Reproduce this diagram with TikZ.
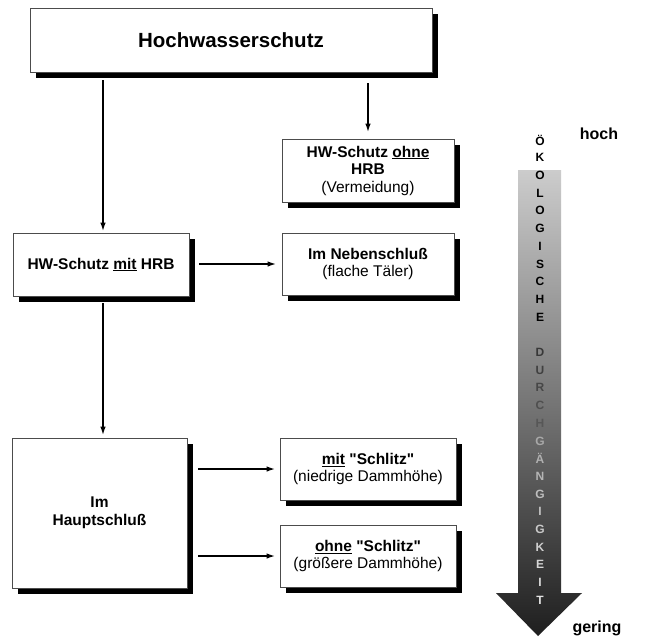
\documentclass[tikz,border=0pt]{standalone}
\usepackage{fontspec}
\setmainfont{Liberation Sans}[Ligatures=TeXOff]
\usetikzlibrary{shadows,arrows.meta}
\begin{document}
\begin{tikzpicture}[x=1pt,y=-1pt]
\tikzset{
 box/.style={draw=black!70, line width=0.8pt, fill=white, align=center, inner sep=2pt,
   font=\fontsize{15.5}{17.5}\selectfont,
   drop shadow={shadow xshift=6pt, shadow yshift=-6pt, fill=black, opacity=1}},
 arr/.style={line width=1.8pt, -{Latex[length=9pt,width=5.5pt]}},
 letter/.style={font=\bfseries\fontsize{12}{12}\selectfont, inner sep=0pt},
 scalelabel/.style={font=\bfseries\fontsize{16}{16}\selectfont, inner sep=0pt}
}
\useasboundingbox[fill=white] (0,0) rectangle (645,641);

% boxes
\node[box, minimum width=402pt, minimum height=64pt, font=\bfseries\fontsize{20.5}{23}\selectfont] (top) at (231,40) {Hochwasserschutz};
\node[box, minimum width=172pt, minimum height=63pt] (ohne) at (368,170.5)
  {\textbf{HW-Schutz \underline{ohne}}\\ \textbf{HRB}\\ (Vermeidung)};
\node[box, minimum width=172pt, minimum height=62pt] (neben) at (368,264)
  {\textbf{Im Nebenschluß}\\ (flache Täler)};
\node[box, minimum width=176pt, minimum height=63pt] (mit) at (101,264.5)
  {\textbf{HW-Schutz \underline{mit} HRB}};
\node[box, minimum width=175pt, minimum height=150pt] (haupt) at (99.5,513)
  {\textbf{Im}\\ \textbf{Hauptschluß}};
\node[box, minimum width=176pt, minimum height=62pt] (mits) at (368,469)
  {\textbf{\underline{mit} "Schlitz"}\\ (niedrige Dammhöhe)};
\node[box, minimum width=176pt, minimum height=62pt] (ohnes) at (368,556)
  {\textbf{\underline{ohne} "Schlitz"}\\ (größere Dammhöhe)};

% connectors
\draw[arr, shorten <=8pt, shorten >=1pt] ([xshift=2pt]top.south -| mit.north) -- ([xshift=2pt]mit.north);
\draw[arr, shorten <=11pt, shorten >=6pt] (top.south -| ohne.north) -- (ohne.north);
\draw[arr, shorten <=10pt, shorten >=5pt] (mit.east |- neben.west) -- (neben.west);
\draw[arr, shorten <=7pt, shorten >=2pt] ([xshift=2pt]mit.south) -- ([xshift=2pt]mit.south |- haupt.north);
\draw[arr, shorten <=11pt, shorten >=4pt] (haupt.east |- mits.west) -- (mits.west);
\draw[arr, shorten <=11pt, shorten >=4pt] (haupt.east |- ohnes.west) -- (ohnes.west);

% gradient arrow
\shade[top color=black!20, bottom color=black!88]
  (518,170) -- (561,170) -- (561,593) -- (582,593) -- (538,636) -- (496,593) -- (518,593) -- cycle;
\foreach \ch [count=\i from 0] in {Ö,K,O,L,O,G,I,S,C,H,E,{},D,U,R,C,H,G,Ä,N,G,I,G,K,E,I,T} {
  \pgfmathtruncatemacro\shadeval{\i<11 ? 100 : (\i<17 ? 78-(\i-12)*3 : 34-(\i-17)*2.5)}
  \node[letter, text=black!\shadeval] (L\i) at (540,140+17.7*\i) {\ch};
}
\node[scalelabel] (hoch) at (599,134) {hoch};
\node[scalelabel] (gering) at (597,628) {gering};
\end{tikzpicture}
\end{document}
